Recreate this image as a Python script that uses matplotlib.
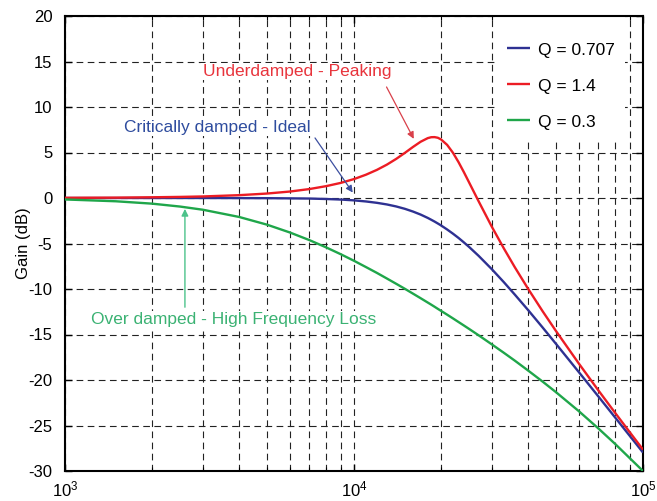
import matplotlib
matplotlib.use("Agg")
import matplotlib.pyplot as plt
from matplotlib.patches import Rectangle

plt.rcParams['font.family'] = ['Liberation Sans', 'DejaVu Sans']
plt.rcParams['mathtext.fontset'] = 'custom'
plt.rcParams['mathtext.rm'] = 'Liberation Sans'
plt.rcParams['mathtext.it'] = 'Liberation Sans'
plt.rcParams['mathtext.bf'] = 'Liberation Sans'
plt.rcParams['axes.unicode_minus'] = False

# ---- data ----
freq_khz = [1, 1.5, 2, 2.5, 3, 4, 5, 6, 7, 8, 9, 10, 11, 12, 13, 14, 15, 16, 17, 18,
            18.5, 19, 19.5, 20, 21, 22, 23, 24, 25, 27, 30, 33, 36, 40, 45, 50, 60, 70,
            80, 90, 100]
gain_q0707 = [0.0, 0.0, 0.0, 0.0, 0.0, -0.01, -0.02, -0.04, -0.06, -0.11, -0.17, -0.26,
              -0.38, -0.53, -0.71, -0.93, -1.19, -1.49, -1.82, -2.19, -2.39, -2.59, -2.80,
              -3.01, -3.46, -3.92, -4.39, -4.88, -5.37, -6.36, -7.83, -9.25, -10.61,
              -12.30, -14.25, -16.03, -19.14, -21.79, -24.10, -26.14, -27.97]
gain_q14 = [0.02, 0.04, 0.08, 0.12, 0.17, 0.31, 0.49, 0.71, 0.98, 1.30, 1.66, 2.08,
            2.56, 3.09, 3.67, 4.30, 4.96, 5.61, 6.18, 6.58, 6.68, 6.69, 6.62, 6.44,
            5.84, 4.97, 3.94, 2.84, 1.73, -0.37, -3.17, -5.54, -7.60, -9.96, -12.47,
            -14.62, -18.20, -21.12, -23.59, -25.74, -27.65]
gain_q03 = [-0.16, -0.36, -0.62, -0.94, -1.29, -2.08, -2.93, -3.79, -4.62, -5.42, -6.18,
            -6.90, -7.59, -8.23, -8.85, -9.43, -9.98, -10.51, -11.01, -11.49, -11.72,
            -11.95, -12.18, -12.40, -12.82, -13.23, -13.63, -14.01, -14.38, -15.09,
            -16.09, -17.01, -17.87, -18.95, -20.19, -21.34, -23.43, -25.31, -27.01,
            -28.59, -30.0]
series_labels = ['Q = 0.707', 'Q = 1.4', 'Q = 0.3']
series_colors = ['#2E3192', '#EC1C24', '#1FA64A']
x_ticks = [1e3, 1e4, 1e5]
x_tick_labels = ['$10^{3}$', '$10^{4}$', '$10^{5}$']
y_ticks = [-30, -25, -20, -15, -10, -5, 0, 5, 10, 15, 20]

freq_hz = [f * 1000 for f in freq_khz]

fig = plt.figure(figsize=(6.57, 5.01), dpi=100)
ax = fig.add_axes([65/657, 30/501, 578/657, 455/501])
ax.set_xscale('log')
ax.set_xlim(1e3, 1e5)
ax.set_ylim(-30, 20)
ax.set_axisbelow(True)

grid_kw = dict(linestyle=(0, (6, 4)), color='#222222', linewidth=0.8)
ax.grid(True, which='both', axis='x', **grid_kw)
ax.grid(True, which='major', axis='y', **grid_kw)

# white legend background hiding the grid
ax.add_patch(Rectangle((0.744, 0.727), 0.225, 0.273, transform=ax.transAxes,
                       facecolor='white', edgecolor='none', zorder=1.5))

for g, lab, c in zip([gain_q0707, gain_q14, gain_q03], series_labels, series_colors):
    ax.plot(freq_hz, g, color=c, lw=1.7, label=lab, zorder=3, solid_capstyle='butt')

ax.set_xticks(x_ticks)
ax.set_xticklabels(x_tick_labels)
ax.set_yticks(y_ticks)
ax.set_yticklabels([str(v) for v in y_ticks])
ax.tick_params(which='both', direction='in', top=True, right=True, labelsize=12)
ax.tick_params(which='major', length=5, width=1.0)
ax.tick_params(which='minor', length=3, width=0.8)
ax.tick_params(axis='y', pad=9)
ax.tick_params(axis='x', pad=6)
for s in ax.spines.values():
    s.set_linewidth(1.5)

ax.set_ylabel('Gain (dB)', fontsize=12, labelpad=-2)

leg = ax.legend(loc='upper left', bbox_to_anchor=(0.765, 0.942), frameon=False,
                fontsize=12.5, handlelength=1.3, handletextpad=0.5, labelspacing=1.2,
                borderpad=0, borderaxespad=0)

box = dict(facecolor='white', edgecolor='none', pad=1.0)

# annotations
ax.text(3000, 13.9, 'Underdamped - Peaking', color='#E8343C', fontsize=12.5,
        ha='left', va='center', bbox=box, zorder=4)
ax.annotate('', xy=(16100, 6.5), xytext=(12960, 12.2),
            arrowprops=dict(arrowstyle='-|>', color='#D9404A', lw=0.9, mutation_scale=10,
                            shrinkA=0, shrinkB=0), zorder=4)

ax.text(1600, 7.8, 'Critically damped - Ideal', color='#2E4C9E', fontsize=12.5,
        ha='left', va='center', bbox=box, zorder=4)
ax.annotate('', xy=(9900, 0.6), xytext=(7330, 6.6),
            arrowprops=dict(arrowstyle='-|>', color='#3C4FA0', lw=0.9, mutation_scale=10,
                            shrinkA=0, shrinkB=0), zorder=4)

ax.text(1230, -13.4, 'Over damped - High Frequency Loss', color='#3BB273', fontsize=12.5,
        ha='left', va='center', bbox=box, zorder=4)
ax.annotate('', xy=(2600, -1.2), xytext=(2600, -12.0),
            arrowprops=dict(arrowstyle='-|>', color='#4CC28A', lw=1.0, mutation_scale=10,
                            shrinkA=0, shrinkB=0), zorder=4)

fig.savefig('out.png', dpi=100)
